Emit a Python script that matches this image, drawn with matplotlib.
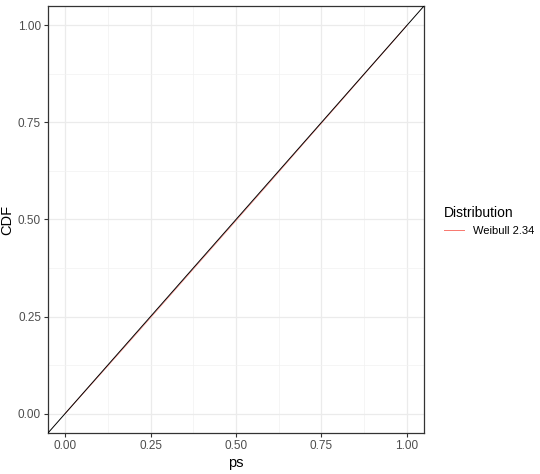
import matplotlib.pyplot as plt
from matplotlib.lines import Line2D

plt.rcParams['font.family'] = ['Liberation Sans', 'DejaVu Sans']

# P-P plot values
ps = [0.0, 0.05, 0.1, 0.2, 0.3, 0.4, 0.5, 0.6, 0.7, 0.8, 0.9, 0.95, 1.0]
cdf = [0.0, 0.049, 0.098, 0.197, 0.297, 0.397, 0.497, 0.597, 0.698, 0.798, 0.899, 0.949, 1.0]
dist_label = "Weibull 2.34"

ticks = [0.0, 0.25, 0.5, 0.75, 1.0]
minor = [0.125, 0.375, 0.625, 0.875]

fig = plt.figure(figsize=(5.4, 4.74), dpi=100)
ax = fig.add_axes([48 / 540, 1 - 433 / 474, 376 / 540, 427 / 474])

ax.set_xlim(-0.05, 1.05)
ax.set_ylim(-0.05, 1.05)
ax.set_xticks(ticks)
ax.set_yticks(ticks)
ax.set_xticks(minor, minor=True)
ax.set_yticks(minor, minor=True)
ax.set_xticklabels(["%.2f" % t for t in ticks])
ax.set_yticklabels(["%.2f" % t for t in ticks])

ax.grid(True, which="major", color="#EBEBEB", linewidth=0.9)
ax.grid(True, which="minor", color="#F2F2F2", linewidth=0.5)
ax.set_axisbelow(True)
ax.tick_params(which="minor", length=0)
ax.tick_params(which="major", length=3, width=0.8, color="#333333",
               labelsize=8.5, labelcolor="#4D4D4D", pad=2)
for s in ax.spines.values():
    s.set_color("#333333")
    s.set_linewidth(0.9)

ax.plot(ps, cdf, color="#F8766D", linewidth=0.6, alpha=0.8, zorder=2)
ax.axline((0, 0), slope=1, color="black", linewidth=0.7, zorder=3)

ax.set_xlabel("ps", fontsize=10.5, labelpad=3)
ax.set_ylabel("CDF", fontsize=10.5, labelpad=3)

handle = Line2D([], [], color="#F8766D", linewidth=0.7)
fig.legend([handle], [dist_label], title="Distribution", loc="upper left",
           bbox_to_anchor=(434 / 540, 1 - 196 / 474), frameon=False,
           fontsize=8, title_fontsize=10, handlelength=1.8, handletextpad=0.8,
           alignment="left")

fig.savefig("out.png", dpi=100)
